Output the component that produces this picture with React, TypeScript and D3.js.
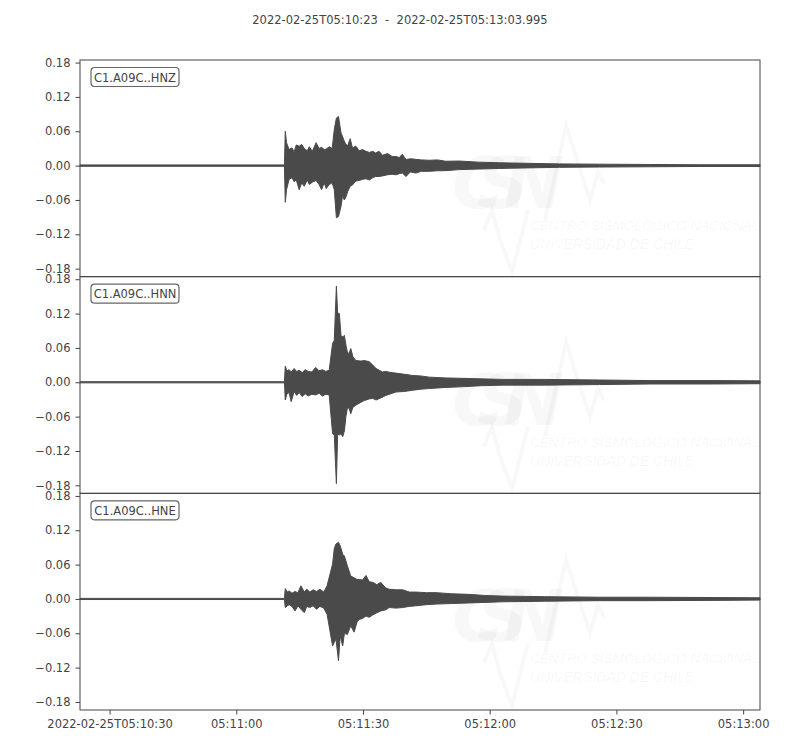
import React, { useEffect, useRef } from "react";
import * as d3 from "d3";

// seconds after 05:10:23, upper envelope, lower envelope (m/s^2)
type Env = [number, number, number];

const traceLabels = ["C1.A09C..HNZ", "C1.A09C..HNN", "C1.A09C..HNE"];
const yTickValues = [-0.18, -0.12, -0.06, 0, 0.06, 0.12, 0.18];
const xTickLabels = ["05:10:30", "05:11:00", "05:11:30", "05:12:00", "05:12:30", "05:13:00"];
const titleText = "2022-02-25T05:10:23  -  2022-02-25T05:13:03.995";
const startTime = "2022-02-25T05:10:23.000Z";
const endTime = "2022-02-25T05:13:03.995Z";
const yLimits = [-0.194, 0.1845];

const hnzEnvelope: Env[] = [
  [0, 0.0012, -0.0012], [48.4, 0.0012, -0.0012], [48.6, 0.06, -0.064], [48.9, 0.04, -0.042],
  [49.5, 0.028, -0.024], [50.2, 0.031, -0.021], [50.7, 0.024, -0.028], [51.2, 0.036, -0.025],
  [51.9, 0.034, -0.042], [52.5, 0.037, -0.03], [53.1, 0.03, -0.036], [53.8, 0.026, -0.025],
  [54.3, 0.033, -0.033], [55.0, 0.025, -0.029], [55.9, 0.04, -0.026], [56.6, 0.03, -0.033],
  [57.2, 0.032, -0.042], [57.8, 0.028, -0.03], [58.3, 0.029, -0.04], [59.0, 0.033, -0.033],
  [59.7, 0.03, -0.03], [60.2, 0.063, -0.042], [60.7, 0.083, -0.091], [61.2, 0.086, -0.089],
  [61.8, 0.057, -0.071], [62.2, 0.05, -0.051], [62.55, 0.043, -0.06], [62.95, 0.037, -0.055],
  [63.4, 0.035, -0.045], [63.97, 0.047, -0.036], [64.5, 0.031, -0.034], [65.3, 0.034, -0.027],
  [66.1, 0.026, -0.026], [66.9, 0.028, -0.024], [67.7, 0.025, -0.023], [68.5, 0.023, -0.025],
  [69.3, 0.025, -0.021], [70.0, 0.022, -0.019], [70.8, 0.025, -0.019], [71.6, 0.018, -0.018],
  [72.8, 0.021, -0.016], [73.9, 0.016, -0.015], [74.8, 0.016, -0.016], [75.6, 0.014, -0.014],
  [76.3, 0.02, -0.013], [77.2, 0.0105, -0.019], [78.2, 0.012, -0.011], [79.5, 0.011, -0.013],
  [80.8, 0.01, -0.01], [82.7, 0.0093, -0.01], [84.6, 0.01, -0.009], [86.6, 0.0076, -0.0088],
  [89.8, 0.008, -0.007], [94.5, 0.006, -0.006], [99.3, 0.005, -0.005], [106, 0.004, -0.004],
  [113.5, 0.003, -0.003], [123, 0.0025, -0.0025], [135, 0.002, -0.002], [146.6, 0.0015, -0.0015],
  [161, 0.0015, -0.0015],
];

const hnnEnvelope: Env[] = [
  [0, 0.001, -0.001], [48.4, 0.001, -0.001], [48.6, 0.028, -0.031], [49.0, 0.02, -0.02],
  [49.5, 0.022, -0.018], [50.0, 0.018, -0.034], [50.7, 0.024, -0.016], [51.3, 0.019, -0.023],
  [51.9, 0.021, -0.018], [52.6, 0.017, -0.025], [53.3, 0.022, -0.02], [54.0, 0.019, -0.024],
  [54.9, 0.018, -0.021], [55.8, 0.026, -0.022], [56.6, 0.02, -0.019], [57.4, 0.022, -0.024],
  [58.2, 0.019, -0.021], [59.0, 0.021, -0.022], [59.8, 0.068, -0.09], [60.2, 0.073, -0.092],
  [60.7, 0.168, -0.177], [61.0, 0.121, -0.09], [61.4, 0.12, -0.092], [61.8, 0.082, -0.09],
  [62.2, 0.079, -0.095], [62.6, 0.082, -0.085], [62.95, 0.065, -0.06], [63.3, 0.053, -0.045],
  [63.7, 0.05, -0.045], [64.1, 0.059, -0.055], [64.6, 0.045, -0.044], [65.3, 0.038, -0.04],
  [66.5, 0.037, -0.035], [67.3, 0.038, -0.032], [68.5, 0.036, -0.029], [69.3, 0.03, -0.028],
  [70.1, 0.024, -0.031], [71.6, 0.018, -0.026], [72.4, 0.019, -0.023], [73.6, 0.017, -0.02],
  [74.8, 0.016, -0.017], [76.8, 0.014, -0.016], [78.7, 0.012, -0.014], [80.7, 0.011, -0.012],
  [82.7, 0.009, -0.011], [86.6, 0.0076, -0.009], [90, 0.007, -0.008], [95, 0.006, -0.006],
  [100, 0.005, -0.005], [110, 0.005, -0.005], [123, 0.004, -0.004], [135, 0.003, -0.003],
  [150, 0.003, -0.003], [161, 0.0025, -0.0025],
];

const hneEnvelope: Env[] = [
  [0, 0.001, -0.001], [48.4, 0.001, -0.001], [48.6, 0.018, -0.015], [49.1, 0.012, -0.012],
  [49.5, 0.014, -0.01], [50.2, 0.01, -0.013], [50.9, 0.013, -0.021], [51.6, 0.011, -0.012],
  [52.3, 0.023, -0.018], [53.1, 0.012, -0.024], [53.7, 0.017, -0.013], [54.4, 0.012, -0.015],
  [55.2, 0.016, -0.012], [56.0, 0.013, -0.018], [56.8, 0.017, -0.013], [57.7, 0.012, -0.016],
  [58.5, 0.023, -0.027], [59.8, 0.061, -0.082], [60.2, 0.088, -0.076], [60.6, 0.096, -0.07],
  [61.2, 0.099, -0.108], [61.6, 0.093, -0.065], [62.2, 0.078, -0.082], [62.6, 0.075, -0.06],
  [63.3, 0.058, -0.062], [64.1, 0.04, -0.047], [64.9, 0.037, -0.058], [65.6, 0.034, -0.04],
  [66.1, 0.034, -0.036], [66.9, 0.033, -0.034], [67.7, 0.041, -0.03], [68.5, 0.03, -0.032],
  [69.3, 0.029, -0.028], [70.3, 0.025, -0.024], [71.2, 0.029, -0.021], [72.4, 0.019, -0.019],
  [73.2, 0.017, -0.015], [74.8, 0.016, -0.016], [76.4, 0.016, -0.015], [78.0, 0.012, -0.013],
  [79.5, 0.012, -0.012], [82.0, 0.011, -0.01], [84.3, 0.011, -0.009], [88, 0.009, -0.008],
  [92, 0.008, -0.007], [96, 0.006, -0.006], [100, 0.005, -0.005], [110, 0.004, -0.004],
  [123, 0.003, -0.003], [135, 0.003, -0.003], [150, 0.0025, -0.0025], [161, 0.002, -0.002],
];

const traces = [hnzEnvelope, hnnEnvelope, hneEnvelope];

const App: React.FC = () => {
  const ref = useRef<SVGSVGElement | null>(null);

  useEffect(() => {
    if (!ref.current) return;
    const svg = d3.select(ref.current);
    svg.selectAll("*").remove();

    const W = 800, H = 750;
    const margin = { top: 60, right: 40, bottom: 40, left: 80 };
    const plotW = W - margin.left - margin.right;
    const panelH = (H - margin.top - margin.bottom) / traces.length;
    const ink = "#444";
    const font = "'DejaVu Sans', sans-serif";

    svg.attr("width", W).attr("height", H);
    svg.append("rect").attr("width", W).attr("height", H).attr("fill", "#fff");

    const t0 = new Date(startTime);
    const t1 = new Date(endTime);
    const x = d3.scaleUtc().domain([t0, t1]).range([margin.left, margin.left + plotW]);
    const at = (s: number) => new Date(t0.getTime() + s * 1000);

    // title (keep the double spaces)
    svg.append("text")
      .attr("x", W / 2).attr("y", 24)
      .attr("text-anchor", "middle")
      .attr("xml:space", "preserve")
      .style("white-space", "pre")
      .style("font-family", font).style("font-size", "11.5px")
      .attr("fill", ink)
      .text(titleText);

    traces.forEach((env, i) => {
      const top = margin.top + i * panelH;
      const y = d3.scaleLinear().domain(yLimits).range([top + panelH, top]);
      const g = svg.append("g");

      // faint watermark logo
      const wm = g.append("g")
        .attr("fill", "#000").attr("fill-opacity", 0.028)
        .attr("stroke", "#000").attr("stroke-opacity", 0.028);
      wm.append("text")
        .attr("x", 452).attr("y", top + 148)
        .style("font-family", "'DejaVu Sans', sans-serif").style("font-style", "italic")
        .style("font-weight", "bold").style("font-size", "72px").attr("stroke", "none")
        .attr("textLength", 112)
        .text("CSN");
      wm.append("polyline")
        .attr("points", [[545, 160], [566, 66], [590, 140], [598, 112], [604, 124]]
          .map((p) => [p[0], p[1] + top].join(",")).join(" "))
        .attr("fill", "none").attr("stroke-width", 4);
      wm.append("polyline")
        .attr("points", [[484, 170], [492, 150], [500, 180], [512, 212], [528, 150]]
          .map((p) => [p[0], p[1] + top].join(",")).join(" "))
        .attr("fill", "none").attr("stroke-width", 4);
      ["CENTRO SISMOLÓGICO NACIONAL", "UNIVERSIDAD DE CHILE"].forEach((s, k) => {
        wm.append("text")
          .attr("x", 530).attr("y", top + 170 + k * 19)
          .style("font-family", "'Liberation Sans', sans-serif").style("font-style", "italic")
          .style("font-size", k === 0 ? "13.5px" : "14px")
          .attr("stroke", "none").attr("fill-opacity", 0.045)
          .text(s);
      });

      // waveform envelope
      const area = d3.area<Env>()
        .x((d) => x(at(d[0])))
        .y0((d) => y(d[2]))
        .y1((d) => y(d[1]));
      g.append("path")
        .datum(env)
        .attr("d", area)
        .attr("fill", "#4a4a4a")
        .attr("stroke", "#4a4a4a")
        .attr("stroke-width", 1)
        .attr("stroke-linejoin", "miter");

      // frame
      g.append("rect")
        .attr("x", margin.left).attr("y", top)
        .attr("width", plotW).attr("height", panelH)
        .attr("fill", "none").attr("stroke", ink).attr("stroke-width", 1);

      // y axis
      const yAxis = g.append("g")
        .attr("transform", `translate(${margin.left},0)`)
        .call(d3.axisLeft(y).tickValues(yTickValues).tickSize(4.5).tickPadding(5)
          .tickFormat((d) => d3.format(".2f")(d as number).replace("-", "\u2212")));
      yAxis.select(".domain").remove();
      yAxis.selectAll("line").attr("stroke", ink);
      yAxis.selectAll("text").attr("fill", ink)
        .style("font-family", font).style("font-size", "11.5px");

      // trace label box
      const lbl = g.append("g").attr("transform", `translate(91,${top + 7.5})`);
      lbl.append("rect")
        .attr("width", 88).attr("height", 19).attr("rx", 3.5)
        .attr("fill", "#fff").attr("stroke", "#666").attr("stroke-width", 1.2);
      lbl.append("text")
        .attr("x", 44).attr("y", 14)
        .attr("text-anchor", "middle")
        .style("font-family", font).style("font-size", "11.5px")
        .attr("fill", ink)
        .text(traceLabels[i]);
    });

    // time axis
    const tickDates = xTickLabels.map((s) => new Date(`2022-02-25T${s}Z`));
    const xAxis = svg.append("g")
      .attr("transform", `translate(0,${H - margin.bottom})`)
      .call(d3.axisBottom(x).tickValues(tickDates).tickSize(4.5).tickPadding(5)
        .tickFormat((d, k) => (k === 0 ? "2022-02-25T" : "") + xTickLabels[k]));
    xAxis.select(".domain").remove();
    xAxis.selectAll("line").attr("stroke", ink);
    xAxis.selectAll("text").attr("fill", ink)
      .style("font-family", font).style("font-size", "11.5px");
  }, []);

  return (
    <div style={{ position: "absolute", left: 0, top: 0 }}>
      <svg ref={ref} style={{ display: "block" }} />
    </div>
  );
};

export default App;
